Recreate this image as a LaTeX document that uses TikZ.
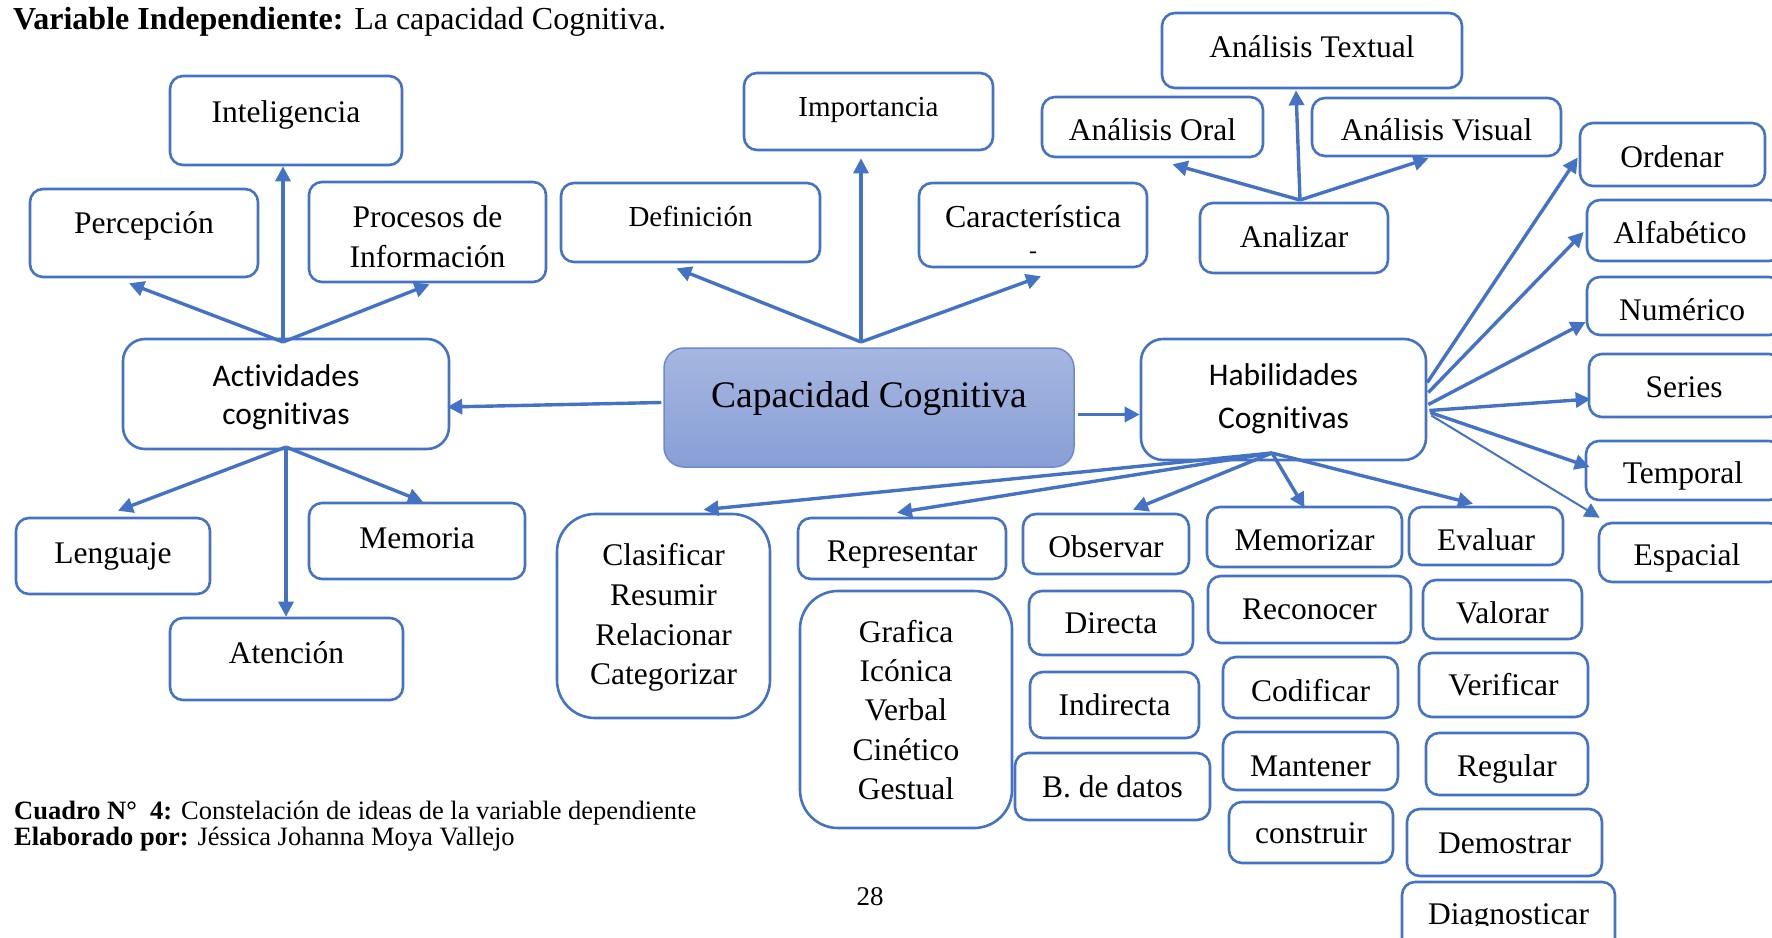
\documentclass[tikz,border=0pt]{standalone}
\usepackage{fontspec}
\setmainfont{Liberation Serif}[Ligatures=NoCommon]
\newfontfamily\calib{Carlito}[Ligatures=NoCommon]
\usetikzlibrary{arrows.meta,calc}
\definecolor{myblue}{RGB}{68,114,196}
\definecolor{captop}{RGB}{166,182,224}
\definecolor{capbot}{RGB}{136,159,214}
\definecolor{capedge}{RGB}{108,138,208}
\newcommand\myfs[1]{\fontsize{#1}{#1}\selectfont}
\newcommand\mkbox[6][]{\node[bx,#1,minimum width={(#5-#3)*1pt},minimum height={(#6-#4)*1pt}] (#2) at ({(#3+#5)/2},{(#4+#6)/2}) {};}
\newcommand\mktx[5][]{\node[tx,#1] (#2) at (#3,#4) {#5};}
\tikzset{
  bx/.style={draw=myblue, line width=2.6pt, rounded corners=13pt, inner sep=0pt, fill=white},
  bigr/.style={rounded corners=22pt},
  hugr/.style={rounded corners=38pt},
  tx/.style={inner sep=0pt, anchor=base, font={\myfs{31.5}}},
  sf/.style={font={\calib\myfs{31.5}}},
  arr/.style={draw=myblue, line width=3.4pt, -{Triangle[length=15pt,width=15pt]}},
}
\begin{document}
\begin{tikzpicture}[x=1pt,y=-1pt]
\useasboundingbox (0,0) rectangle (1772,937);

% boxes
\mkbox{int}{170}{76}{402}{165}
\mkbox{per}{30}{189}{258}{277}
\mkbox{proc}{309}{182}{546}{282}
\mkbox{def}{561}{183}{820}{262}
\mkbox{imp}{744}{73}{993}{150}
\mkbox{car}{919}{183}{1147}{267}
\node[draw=capedge, line width=1.5pt, rounded corners=20pt, top color=captop, bottom color=capbot,
  inner sep=0pt, minimum width=410pt, minimum height=119pt] (cap) at (869,407.5) {};
\mkbox{tex}{1162}{13}{1462}{88}
\mkbox{oral}{1042}{97}{1263}{157}
\mkbox{vis}{1312}{98}{1561}{156}
\mkbox{ana}{1200}{203}{1388}{273}
\mkbox{ord}{1580}{123}{1765}{186}
\mkbox{alf}{1587}{200}{1782}{261}
\mkbox{num}{1587}{277}{1782}{335}
\mkbox{ser}{1589}{354}{1782}{417}
\mkbox{tem}{1586}{441}{1782}{500}
\mkbox{esp}{1599}{523}{1782}{582}
\mkbox[bigr]{hab}{1141}{339}{1426}{460}
\mkbox[bigr]{act}{123}{339}{449}{449}
\mkbox{len}{16}{518}{210}{594}
\mkbox{memo}{309}{503}{525}{579}
\mkbox{aten}{170}{618}{403}{700}
\mkbox[hugr]{cla}{557}{514}{770}{718}
\mkbox{rep}{798}{518}{1006}{579}
\mkbox[hugr]{gra}{800}{591}{1012}{828}
\mkbox{obs}{1023}{514}{1189}{574}
\mkbox{dir}{1029}{591}{1193}{655}
\mkbox{ind}{1030}{672}{1199}{738}
\mkbox{bdd}{1015}{753}{1210}{820}
\mkbox{memz}{1207}{507}{1402}{567}
\mkbox{eva}{1409}{507}{1563}{565}
\mkbox{rec}{1208}{576}{1411}{643}
\mkbox{val}{1423}{580}{1582}{639}
\mkbox{cod}{1223}{657}{1398}{718}
\mkbox{ver}{1419}{653}{1588}{717}
\mkbox{man}{1223}{732}{1398}{790}
\mkbox{reg}{1426}{733}{1588}{795}
\mkbox{con}{1229}{802}{1393}{863}
\mkbox{dem}{1407}{809}{1602}{876}
\mkbox{dia}{1402}{882}{1615}{960}

% texts
\mktx{tint}{286}{122}{Inteligencia}
\mktx{tper}{144}{233}{Percepción}
\mktx{tproc1}{427.5}{227}{Procesos de}
\mktx{tproc2}{427.5}{267}{Información}
\mktx[font={\myfs{29}}]{tdef}{690.5}{226}{Definición}
\mktx[font={\myfs{29}}]{timp}{868.5}{116}{Importancia}
\mktx[font={\myfs{32}}]{tcar}{1033}{227}{Característica}
\mktx[font={\myfs{24}}]{tcar2}{1033}{258}{-}
\mktx[font={\myfs{37.5}}]{tcap}{869}{407}{Capacidad Cognitiva}
\mktx{ttex}{1312}{57}{Análisis Textual}
\mktx{toral}{1152.5}{140}{Análisis Oral}
\mktx{tvis}{1436.5}{140}{Análisis Visual}
\mktx{tana}{1294}{247}{Analizar}
\mktx{tord}{1672}{167}{Ordenar}
\mktx{talf}{1680}{243}{Alfabético}
\mktx{tnum}{1682}{320}{Numérico}
\mktx{tser}{1684}{397}{Series}
\mktx{ttem}{1683}{483}{Temporal}
\mktx{tesp}{1687}{565}{Espacial}
\mktx[sf]{thab1}{1283.5}{385}{Habilidades}
\mktx[sf]{thab2}{1283.5}{428}{Cognitivas}
\mktx[sf]{tact1}{286}{386}{Actividades}
\mktx[sf]{tact2}{286}{424}{cognitivas}
\mktx{tlen}{113}{563}{Lenguaje}
\mktx{tmemo}{417}{548}{Memoria}
\mktx{taten}{286.5}{663}{Atención}
\mktx{tcla1}{663.5}{565}{Clasificar}
\mktx{tcla2}{663.5}{605}{Resumir}
\mktx{tcla3}{663.5}{645}{Relacionar}
\mktx{tcla4}{663.5}{684}{Categorizar}
\mktx{trep}{902}{561}{Representar}
\mktx{tgra1}{906}{642}{Grafica}
\mktx{tgra2}{906}{681}{Icónica}
\mktx{tgra3}{906}{720}{Verbal}
\mktx{tgra4}{906}{760}{Cinético}
\mktx{tgra5}{906}{799}{Gestual}
\mktx{tobs}{1106}{557}{Observar}
\mktx{tdir}{1111}{633}{Directa}
\mktx{tind}{1114.5}{715}{Indirecta}
\mktx{tbdd}{1112.5}{797}{B. de datos}
\mktx{tmemz}{1304.5}{550}{Memorizar}
\mktx{teva}{1486}{550}{Evaluar}
\mktx{trec}{1309.5}{619}{Reconocer}
\mktx{tval}{1502.5}{623}{Valorar}
\mktx{tcod}{1310.5}{701}{Codificar}
\mktx{tver}{1503.5}{695}{Verificar}
\mktx{tman}{1310.5}{776}{Mantener}
\mktx{treg}{1507}{776}{Regular}
\mktx{tcon}{1311}{843}{construir}
\mktx{tdem}{1504.5}{853}{Demostrar}
\begin{scope}
\clip (1390,870) rectangle (1630,925);
\mktx{tdia}{1508.5}{924}{Diagnosticar}
\end{scope}

% title and footer
\node[anchor=base west, inner sep=0pt, font={\myfs{32}}] (title) at (13,29)
  {\textbf{Variable Independiente:} La capacidad Cognitiva.};
\node[anchor=base west, inner sep=0pt, font={\myfs{26.5}}] (cuadro) at (14,819)
  {\textbf{Cuadro N°\ \ 4:} Constelación de ideas de la variable dependiente};
\node[anchor=base west, inner sep=0pt, font={\myfs{26.5}}] (elab) at (14,845)
  {\textbf{Elaborado por:} Jéssica Johanna Moya Vallejo};
\node[anchor=base, inner sep=0pt, font={\myfs{27}}] (pag) at (870,905) {28};

% hubs
\coordinate (actTop) at (283,342);
\coordinate (actBot) at (286,447);
\coordinate (capTop) at (861,342);
\coordinate (anaTop) at (1300,200);
\coordinate (habBot) at (1272,453);

% arrows
\draw[arr] (actTop) -- (actTop |- int.south);
\draw[arr] (actTop) -- ($(per.south)+(-15,5)$);
\draw[arr] (actTop) -- ($(proc.south)+(2,1)$);
\draw[arr] (actBot) -- ($(len.north)+(5,-6)$);
\draw[arr] (actBot) -- ($(memo.north)+(6,0)$);
\draw[arr] (actBot) -- (actBot |- aten.north);
\draw[arr] ($(cap.west)+(-2,-5)$) -- ($(act.east)+(-3,13)$);
\draw[arr] (capTop) -- ($(def.south)+(-14,5)$);
\draw[arr] (capTop) -- ($(capTop |- imp.south)+(0,7)$);
\draw[arr] (capTop) -- ($(car.south)+(8,8)$);
\draw[arr] ($(cap.east)+(3,7)$) -- ($(hab.west)+(0,15)$);
\draw[arr] (anaTop) -- ($(oral.south)+(20,6)$);
\draw[arr] (anaTop) -- ($(tex.south)+(-16,1)$);
\draw[arr] (anaTop) -- ($(vis.south)+(-8,1)$);
\draw[arr] ($(hab.east)+(0,-17)$) -- ($(ord.west)+(-1,3)$);
\draw[arr] ($(hab.east)+(1,-7)$) -- ($(alf.west)+(-2,1.5)$);
\draw[arr] ($(hab.east)+(1,5)$) -- ($(num.west)+(0,16)$);
\draw[arr] ($(hab.east)+(2,11)$) -- ($(ser.west)+(3,13.5)$);
\draw[arr] ($(hab.east)+(3,13)$) -- ($(tem.west)+(5,-3.5)$);
\draw[arr, line width=2pt] ($(hab.east)+(4,16)$) -- ($(esp.north west)+(2,-4)$);
\draw[arr] (habBot) -- ($(cla.north)+(40,-3)$);
\draw[arr] (habBot) -- ($(rep.north)+(-5,-4)$);
\draw[arr] (habBot) -- ($(obs.north)+(27,-3)$);
\draw[arr] (habBot) -- ($(memz.north)+(0,2)$);
\draw[arr] (habBot) -- ($(eva.north)+(-13,-2)$);
\end{tikzpicture}
\end{document}
